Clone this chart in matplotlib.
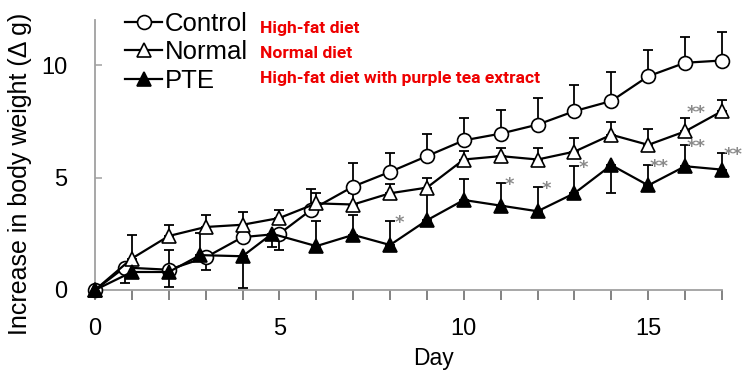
import matplotlib
matplotlib.use("Agg")
import matplotlib.pyplot as plt

# day positions (a few points sit slightly off the day in the original figure)
control_days = [0, 0.8, 2, 3, 4, 5, 5.85, 7, 8, 9, 10, 11, 12, 13, 14, 15, 16, 17]
normal_days = [0, 1, 2, 3, 4, 5, 6, 7, 8, 9, 10, 11, 12, 13, 14, 15, 16, 17]
pte_days = [0, 1, 2, 2.85, 4, 4.8, 6, 7, 8, 9, 10, 11, 12, 13, 14, 15, 16, 17]

control = [0, 1.0, 0.9, 1.45, 2.35, 2.5, 3.55, 4.6, 5.25, 5.95, 6.65, 6.95, 7.35, 7.95, 8.4, 9.5, 10.1, 10.2]
control_lo = [0, 0.7, 0, 0.55, 0, 0.7, 0, 0, 0, 0, 0, 0, 0, 0, 0, 0, 0, 0]
control_hi = [0, 0, 0.9, 0, 0, 0, 0.95, 1.05, 0.85, 1.0, 1.0, 1.05, 1.2, 1.15, 1.3, 1.15, 1.15, 1.25]

normal = [0, 1.4, 2.4, 2.8, 2.9, 3.2, 3.85, 3.8, 4.3, 4.55, 5.8, 5.95, 5.8, 6.15, 6.9, 6.45, 7.05, 7.95]
normal_lo = [0] * 18
normal_hi = [0, 1.05, 0.5, 0.52, 0.55, 0.37, 0.45, 0.5, 0.4, 0.42, 0.4, 0.35, 0.5, 0.6, 0.55, 0.7, 0.6, 0.48]

pte = [0, 0.8, 0.8, 1.55, 1.5, 2.5, 1.95, 2.45, 2.0, 3.1, 4.0, 3.75, 3.5, 4.3, 5.55, 4.65, 5.5, 5.35]
pte_lo = [0, 0, 0.65, 0, 1.4, 0.6, 0, 0, 0, 0, 0, 0, 0, 0, 1.25, 0, 0, 0]
pte_hi = [0, 0.5, 0, 1.0, 0, 0, 1.1, 0.9, 1.05, 1.3, 0.95, 1.0, 1.1, 1.2, 0, 0.9, 0.95, 0.75]

# significance marks: (index into series, label)
pte_sig = [(8, '*'), (11, '*'), (12, '*'), (13, '*'), (15, '**'), (16, '**'), (17, '**')]
normal_sig = [(16, '**')]

labels = ['Control', 'Normal', 'PTE']
notes = ['High-fat diet', 'Normal diet', 'High-fat diet with purple tea extract']

fig = plt.figure(figsize=(7.5, 3.76), dpi=100)
ax = fig.add_axes([95 / 750, 1 - 290 / 376, 627 / 750, 270 / 376])

series = [
    (control_days, control, control_lo, control_hi, 'o', 'white'),
    (normal_days, normal, normal_lo, normal_hi, '^', 'white'),
    (pte_days, pte, pte_lo, pte_hi, '^', 'black'),
]
handles = []
for (xs, ys, lo, hi, mk, fc), lab in zip(series, labels):
    ax.errorbar(xs, ys, yerr=[lo, hi], fmt='none', ecolor='black',
                elinewidth=1.3, capsize=3.5, capthick=1.3, clip_on=False, zorder=2)
    h, = ax.plot(xs, ys, color='black', lw=1.6, marker=mk, markersize=10,
                 markerfacecolor=fc, markeredgecolor='black', markeredgewidth=1.2,
                 clip_on=False, zorder=3, label=lab)
    handles.append(h)


def mark(x, top, s):
    ax.annotate(s, (x, top), xytext=(6.5 if s == '*' else 8, -8),
                textcoords='offset points', ha='center', va='bottom',
                color='#8a8a8a', fontsize=13, fontweight='bold')


for i, s in pte_sig:
    mark(pte_days[i], pte[i] + pte_hi[i], s)
for i, s in normal_sig:
    mark(normal_days[i], normal[i] + normal_hi[i] + 0.3, s)

ax.set_xlim(0, 17)
ax.set_ylim(0, 12)
ax.set_xticks(range(0, 18))
ax.set_xticklabels([str(d) if d % 5 == 0 else '' for d in range(18)])
ax.set_yticks([0, 5, 10])

for side in ['top', 'right']:
    ax.spines[side].set_visible(False)
for side in ['left', 'bottom']:
    ax.spines[side].set_color('#a0a0a0')
    ax.spines[side].set_linewidth(1.3)

ax.tick_params(axis='x', direction='out', length=7, width=1.1, color='#606060',
               labelsize=17, pad=13, labelfontfamily='Liberation Sans')
ax.tick_params(axis='y', direction='in', length=5, width=1.1, color='#a0a0a0',
               labelsize=17, pad=20, labelfontfamily='Liberation Sans')

ax.set_xlabel('Day', fontsize=16.5, family='Liberation Sans')
ax.xaxis.set_label_coords(0.54, -0.21)
ax.set_ylabel('Increase in body weight (\u0394 g)', fontsize=18, family='Liberation Sans')
ax.yaxis.set_label_coords(-0.10, 0.43)

leg = ax.legend(handles=handles, loc='upper left', bbox_to_anchor=(125 / 750, 1 - 12 / 376),
                bbox_transform=fig.transFigure, frameon=False, borderaxespad=0,
                handlelength=1.45, handletextpad=0.1, labelspacing=0.17, borderpad=0,
                prop={'family': 'Liberation Sans', 'size': 18.5})

for k, note in enumerate(notes):
    fig.text(260 / 750, 1 - (28 + 25.5 * k) / 376, note, color='#ee0000', fontsize=12.6,
             fontweight='bold', family='Roboto', va='center', ha='left')

fig.savefig('out.png', dpi=100)
